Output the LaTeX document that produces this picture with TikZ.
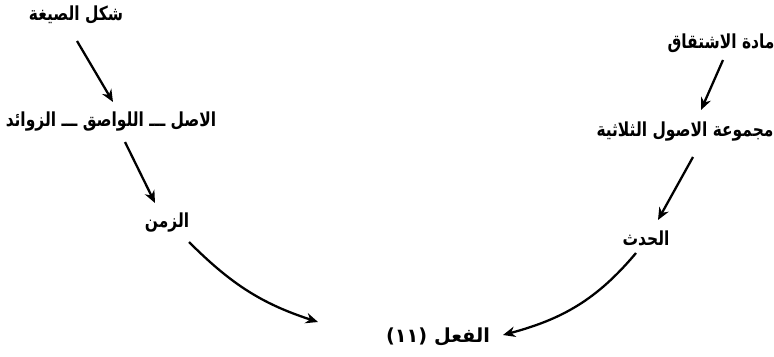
\documentclass[tikz,border=0pt]{standalone}
\usepackage{fontspec}
\newfontfamily\arabicfont[Script=Arabic,FakeStretch=0.8]{DejaVu Sans}
\newfontfamily\arabicwide[Script=Arabic]{DejaVu Sans}
\TeXXeTstate=1
\usetikzlibrary{arrows.meta, calc}

\tikzset{
    lbl/.style={font=\arabicfont\bfseries\fontsize{11}{13}\selectfont, inner sep=2pt},
    lblwide/.style={font=\arabicwide\bfseries\fontsize{11}{13}\selectfont, inner sep=2pt},
    link/.style={line width=1.3pt, -{Stealth[length=7pt,width=6pt]}},
}

\begin{document}
\begin{tikzpicture}[scale=1.0]
    \useasboundingbox (0,0) rectangle (15.48,7.12);
    % left branch
    \node[lbl] (shakl) at (1.52,6.82) {\beginR شكل الصيغة\endR};
    \node[lbl] (asl) at (2.22,4.68) {\beginR الاصل ـــ اللواصق ـــ الزوائد\endR};
    \node[lbl] (zaman) at (3.34,2.66) {\beginR الزمن\endR};
    % right branch
    \node[lbl] (madda) at (14.42,6.26) {\beginR مادة الاشتقاق\endR};
    \node[lbl] (majmua) at (13.70,4.48) {\beginR مجموعة الاصول الثلاثية\endR};
    \node[lbl] (hadath) at (12.92,2.36) {\beginR الحدث\endR};
    % bottom
    \node[lblwide] (fil) at (8.76,0.38) {\beginR الفعل (١١)\endR};

    \draw[link] ($(shakl)+(0.02,-0.52)$) -- ($(asl)+(0.04,0.4)$);
    \draw[link] ($(asl)+(0.28,-0.4)$) -- ($(zaman)+(-0.24,0.4)$);
    \draw[link] ($(zaman)+(0.44,-0.38)$) to[out=-45,in=162] ($(fil)+(-2.4,0.3)$);
    \draw[link] ($(madda)+(0.04,-0.34)$) -- ($(majmua)+(0.32,0.44)$);
    \draw[link] ($(majmua)+(0.16,-0.5)$) -- ($(hadath)+(0.24,0.36)$);
    \draw[link] ($(hadath)+(-0.2,-0.3)$) to[out=230,in=15] ($(fil)+(1.3,0.04)$);
\end{tikzpicture}
\end{document}
